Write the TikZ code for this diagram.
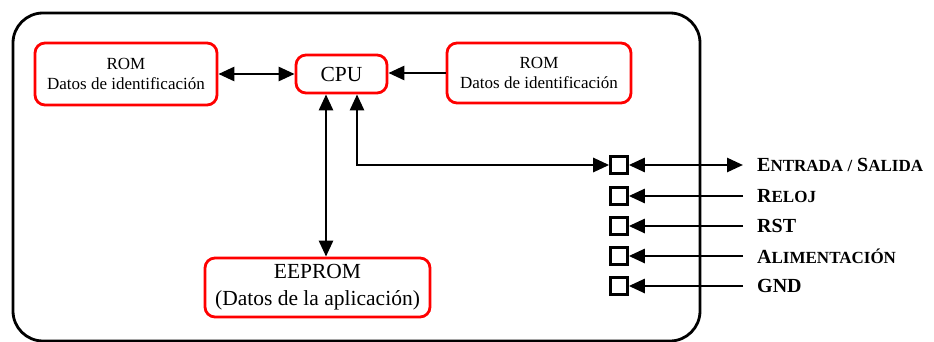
\documentclass[tikz,border=0pt]{standalone}
\usepackage{fontspec}
\setmainfont{Liberation Serif}
\usetikzlibrary{arrows.meta}
% faked small capitals: a full-size initial followed by smaller capitals
\newcommand\capsinit[2]{{\fontsize{20}{24}\selectfont #1}{\fontsize{17}{20}\selectfont #2}}
\begin{document}
\begin{tikzpicture}[x=1pt,y=-1pt,
  unit/.style={draw=red, line width=2.8pt, rounded corners=10pt, align=center, inner sep=0pt},
  pin/.style={draw=black, line width=2.6pt, minimum width=17pt, minimum height=17pt, inner sep=0pt},
  sig/.style={font=\bfseries\fontsize{20}{24}\selectfont, anchor=west, inner sep=0pt},
  tip/.style={line width=2.7pt, -{Triangle[length=16pt,width=14pt]}},
  bitip/.style={line width=2.7pt, {Triangle[length=16pt,width=14pt]}-{Triangle[length=16pt,width=14pt]}}]
\useasboundingbox (0,0) rectangle (934,342);

% card outline
\draw[line width=2.8pt, rounded corners=30pt] (13,13) rectangle (700,341);

% functional blocks
\node[unit, minimum width=182pt, minimum height=62pt,
      font=\fontsize{17}{20}\selectfont] (romL) at (126,74) {ROM\\Datos de identificación};
\node[unit, minimum width=91pt, minimum height=38pt,
      font=\fontsize{21.5}{26}\selectfont] (cpu) at (341.5,74) {CPU};
\node[unit, minimum width=184pt, minimum height=60pt,
      font=\fontsize{17}{20}\selectfont] (romR) at (539,73) {ROM\\Datos de identificación};
\node[unit, minimum width=225pt, minimum height=59pt,
      font=\fontsize{21.5}{27}\selectfont] (eeprom) at (317.5,287.5) {EEPROM\\(Datos de la aplicación)};

% contact pads
\node[pin] (p1) at (619,165) {};
\node[pin] (p2) at (619,196) {};
\node[pin] (p3) at (619,226) {};
\node[pin] (p4) at (619,256) {};
\node[pin] (p5) at (619,286) {};

% line ends and signal names
\foreach \i/\y in {1/165,2/196,3/226,4/256,5/286} {
  \coordinate (e\i) at (743,\y);
}
\node[sig] (l1) at (757,165) {\capsinit{E}{NTRADA /} \capsinit{S}{ALIDA}};
\node[sig] (l2) at (757,196) {\capsinit{R}{ELOJ}};
\node[sig] (l3) at (757,226) {RST};
\node[sig] (l4) at (757,256) {\capsinit{A}{LIMENTACIÓN}};
\node[sig] (l5) at (757,286) {GND};

% internal buses
\draw[bitip] (romL.east) -- (cpu.west);
\draw[tip] (romR.west) -- (romR.west -| cpu.east);
\draw[bitip] ([xshift=-15.5pt]cpu.south) -- ([xshift=-15.5pt]cpu.south |- eeprom.north);
\draw[bitip] ([xshift=15.5pt]cpu.south) |- (p1.west);

% external contacts
\draw[bitip] (p1.east) -- (e1);
\draw[tip] (e2) -- (p2.east);
\draw[tip] (e3) -- (p3.east);
\draw[tip] (e4) -- (p4.east);
\draw[tip] (e5) -- (p5.east);
\end{tikzpicture}
\end{document}
